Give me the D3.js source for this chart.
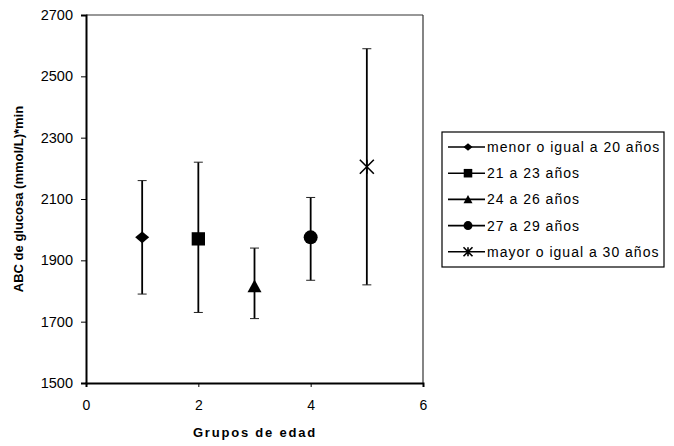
<!DOCTYPE html>
<html>
<head>
<meta charset="utf-8">
<script src="https://cdn.jsdelivr.net/npm/d3@7"></script>
<style>
  body { margin: 0; background: #fff; }
  text { font-family: "Liberation Sans", Arial, sans-serif; }
</style>
</head>
<body>
<div id="chart"></div>
<script>
// data
var groups = ["menor o igual a 20 años", "21 a 23 años", "24 a 26 años", "27 a 29 años", "mayor o igual a 30 años"];
var xValues = [1, 2, 3, 4, 5];
var means = [1975, 1970, 1815, 1975, 2205];
var upper = [2160, 2220, 1940, 2105, 2590];
var lower = [1790, 1730, 1710, 1835, 1820];
var symbols = ["diamond", "square", "triangle", "circle", "asterisk"];
var yTicks = [1500, 1700, 1900, 2100, 2300, 2500, 2700];
var xTicks = [0, 2, 4, 6];

var width = 674, height = 446;
var margin = { top: 15, right: 251, bottom: 63, left: 86 };
var chartWidth = width - margin.left - margin.right;
var chartHeight = height - margin.top - margin.bottom;

var svg = d3.select("#chart").append("svg")
    .attr("width", width)
    .attr("height", height);

var chartGroup = svg.append("g")
    .attr("transform", `translate(${margin.left}, ${margin.top})`);

var x = d3.scaleLinear().domain([0, 6]).range([0, chartWidth]);
var y = d3.scaleLinear().domain([1500, 2700]).range([chartHeight, 0]);

// frame top / right
chartGroup.append("line")
    .attr("x1", 0).attr("x2", chartWidth).attr("y1", 0).attr("y2", 0)
    .attr("stroke", "#333").attr("stroke-width", 1.2);
chartGroup.append("line")
    .attr("x1", chartWidth).attr("x2", chartWidth).attr("y1", 0).attr("y2", chartHeight)
    .attr("stroke", "#333").attr("stroke-width", 1.2);

// axes
var bottomAxis = d3.axisBottom(x).tickValues(xTicks).tickSize(4).tickPadding(13).tickFormat(d3.format("d"));
var leftAxis = d3.axisLeft(y).tickValues(yTicks).tickSize(5).tickPadding(8).tickFormat(d3.format("d"));

var gx = chartGroup.append("g")
    .attr("transform", `translate(0, ${chartHeight})`)
    .call(bottomAxis);
var gy = chartGroup.append("g").call(leftAxis);

[gx, gy].forEach(function(g) {
  g.select(".domain").attr("stroke", "#000").attr("stroke-width", 2);
  g.selectAll(".tick line").attr("stroke", "#000");
  g.selectAll(".tick text").attr("fill", "#000")
    .style("font-family", "'Liberation Sans', Arial, sans-serif");
});
gy.selectAll(".tick text").attr("font-size", 14.5);
gx.selectAll(".tick text").attr("font-size", 14);

// error bars
var points = xValues.map(function(v, i) {
  return { x: v, mean: means[i], hi: upper[i], lo: lower[i], sym: symbols[i] };
});

var bars = chartGroup.selectAll(".err").data(points).enter().append("g").attr("class", "err");
bars.append("line")
    .attr("x1", d => x(d.x)).attr("x2", d => x(d.x))
    .attr("y1", d => y(d.hi)).attr("y2", d => y(d.lo))
    .attr("stroke", "#000").attr("stroke-width", 1.8);
bars.append("line")
    .attr("x1", d => x(d.x) - 4.5).attr("x2", d => x(d.x) + 4.5)
    .attr("y1", d => y(d.hi)).attr("y2", d => y(d.hi))
    .attr("stroke", "#222").attr("stroke-width", 1);
bars.append("line")
    .attr("x1", d => x(d.x) - 4.5).attr("x2", d => x(d.x) + 4.5)
    .attr("y1", d => y(d.lo)).attr("y2", d => y(d.lo))
    .attr("stroke", "#222").attr("stroke-width", 1);

// marker shapes, s = half size
function drawMarker(g, sym, s) {
  if (sym === "asterisk") {
    g.append("path")
      .attr("d", `M${-s},${-s}L${s},${s}M${-s},${s}L${s},${-s}M0,${-s}L0,${s}`)
      .attr("stroke", "#000").attr("stroke-width", 1.6).attr("fill", "none");
    return;
  }
  if (sym === "circle") {
    g.append("circle").attr("r", s).attr("fill", "#000");
    return;
  }
  var p;
  if (sym === "diamond") p = `M0,${-s * 0.85}L${s},0L0,${s * 0.85}L${-s},0Z`;
  if (sym === "square") p = `M${-s * 0.95},${-s * 0.95}H${s * 0.95}V${s * 0.95}H${-s * 0.95}Z`;
  if (sym === "triangle") p = `M0,${-s}L${s},${s * 0.85}L${-s},${s * 0.85}Z`;
  g.append("path").attr("d", p).attr("fill", "#000");
}

chartGroup.selectAll(".marker").data(points).enter().append("g")
    .attr("class", "marker")
    .attr("transform", d => `translate(${x(d.x)}, ${y(d.mean)})`)
    .each(function(d) { drawMarker(d3.select(this), d.sym, 7); });

// axis titles
svg.append("text")
    .attr("transform", `translate(23, ${margin.top + chartHeight / 2}) rotate(-90)`)
    .attr("text-anchor", "middle")
    .attr("font-size", 13).attr("font-weight", "bold")
    .text("ABC de glucosa (mmol/L)*min");

svg.append("text")
    .attr("x", 255)
    .attr("y", 437)
    .attr("text-anchor", "middle")
    .attr("font-size", 13).attr("font-weight", "bold")
    .attr("letter-spacing", 1.8)
    .text("Grupos de edad");

// legend
var legend = svg.append("g").attr("transform", "translate(442, 132)");
legend.append("rect")
    .attr("width", 222).attr("height", 135)
    .attr("fill", "#fff").attr("stroke", "#000").attr("stroke-width", 1.2);

var items = legend.selectAll(".item").data(groups).enter().append("g")
    .attr("class", "item")
    .attr("transform", (d, i) => `translate(0, ${15 + i * 26.2})`);
items.append("line")
    .attr("x1", 6).attr("x2", 43).attr("y1", 0).attr("y2", 0)
    .attr("stroke", "#000").attr("stroke-width", 1.6);
items.each(function(d, i) {
  var m = d3.select(this).append("g").attr("transform", "translate(26, 0)");
  drawMarker(m, symbols[i], 4.5);
});
items.append("text")
    .attr("x", 45).attr("y", 5)
    .attr("font-size", 14)
    .attr("letter-spacing", 1)
    .text(d => d);
</script>
</body>
</html>
